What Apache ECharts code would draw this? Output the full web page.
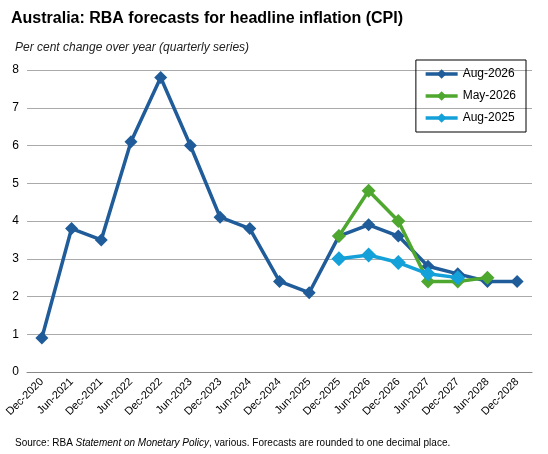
<!DOCTYPE html><html><head><meta charset="utf-8"><script src="https://cdn.jsdelivr.net/npm/echarts@6/dist/echarts.min.js"></script>
<style>body{margin:0}#c{width:548px;height:454px}</style></head><body><div id="c"></div><script>
const categories=['Dec-2020','Jun-2021','Dec-2021','Jun-2022','Dec-2022','Jun-2023','Dec-2023','Jun-2024','Dec-2024','Jun-2025','Dec-2025','Jun-2026','Dec-2026','Jun-2027','Dec-2027','Jun-2028','Dec-2028'];
const aug2026=[0.9,3.8,3.5,6.1,7.8,6.0,4.1,3.8,2.4,2.1,3.6,3.9,3.6,2.8,2.6,2.4,2.4];
const may2026=[null,null,null,null,null,null,null,null,null,null,3.6,4.8,4.0,2.4,2.4,2.5,null];
const aug2025=[null,null,null,null,null,null,null,null,null,null,3.0,3.1,2.9,2.6,2.5,null,null];
const F='Liberation Sans';
const mk=(name,data,color,sz,w)=>({name,type:'line',data,symbol:'diamond',symbolSize:sz,itemStyle:{color},lineStyle:{color,width:w},connectNulls:false,z:name==='Aug-2026'?2:3});
echarts.init(document.getElementById('c')).setOption({
animation:false,textStyle:{fontFamily:F},
title:[{text:'Australia: RBA forecasts for headline inflation (CPI)',left:6,top:6,textStyle:{fontSize:16,fontWeight:'bold',color:'#000',fontFamily:F}},
{text:'Per cent change over year (quarterly series)',left:10,top:37,textStyle:{fontSize:12,fontStyle:'italic',fontWeight:'normal',color:'#222',fontFamily:F}},
{text:'{a|Source: RBA }{b|Statement on Monetary Policy}{a|, various. Forecasts are rounded to one decimal place.}',left:10,top:433,textStyle:{fontWeight:'normal',rich:{a:{fontSize:10,fontWeight:'normal',color:'#000',fontFamily:F},b:{fontSize:10,fontWeight:'normal',fontStyle:'italic',color:'#000',fontFamily:F}}}}],
legend:{orient:'vertical',right:22,top:60,itemGap:10,borderColor:'#000',borderWidth:1,padding:[8,10,8,8],itemWidth:32,itemHeight:12,itemStyle:{},lineStyle:{width:3.5},textStyle:{fontSize:12,color:'#000'},data:['Aug-2026','May-2026','Aug-2025']},
grid:{left:27,right:16,top:70,bottom:82},
xAxis:{type:'category',data:categories,boundaryGap:true,axisLine:{lineStyle:{color:'#888'}},axisTick:{show:false},axisLabel:{rotate:45,interval:0,fontSize:11,color:'#000',margin:8}},
yAxis:{type:'value',min:0,max:8,interval:1,axisLabel:{fontSize:12,color:'#000'},splitLine:{lineStyle:{color:'#aaa'}},axisLine:{show:false}},
series:[mk('Aug-2026',aug2026,'#1f5c99',13,3.5),mk('May-2026',may2026,'#4ea72e',14,3.5),mk('Aug-2025',aug2025,'#14a0d8',15,3.5)]
});
</script></body></html>
